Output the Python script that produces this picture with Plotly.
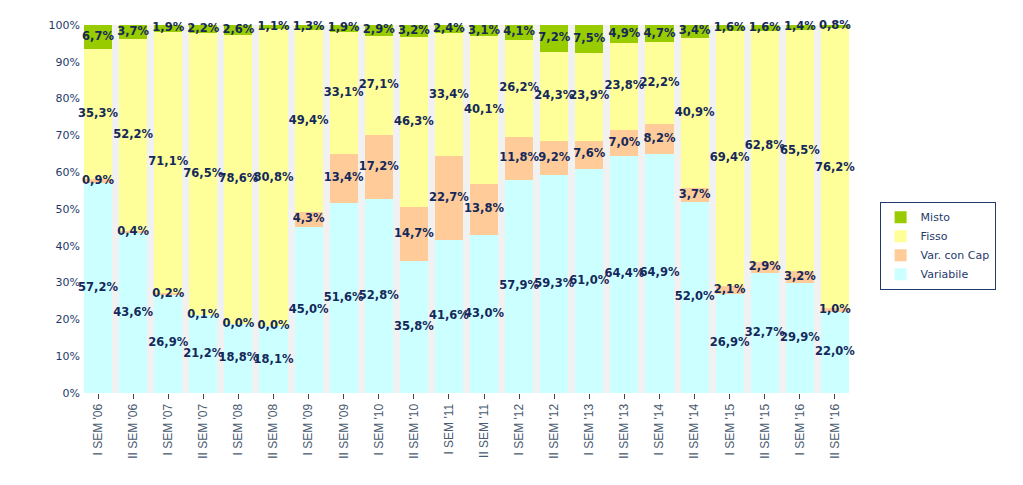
import plotly.graph_objects as go

categories = ["I SEM '06", "II SEM '06", "I SEM '07", "II SEM '07", "I SEM '08", "II SEM '08",
              "I SEM '09", "II SEM '09", "I SEM '10", "II SEM '10", "I SEM '11", "II SEM '11",
              "I SEM '12", "II SEM '12", "I SEM '13", "II SEM '13", "I SEM '14", "II SEM '14",
              "I SEM '15", "II SEM '15", "I SEM '16", "II SEM '16"]

variabile = [57.2, 43.6, 26.9, 21.2, 18.8, 18.1, 45.0, 51.6, 52.8, 35.8, 41.6, 43.0,
             57.9, 59.3, 61.0, 64.4, 64.9, 52.0, 26.9, 32.7, 29.9, 22.0]
var_cap = [0.9, 0.4, 0.2, 0.1, 0.0, 0.0, 4.3, 13.4, 17.2, 14.7, 22.7, 13.8,
           11.8, 9.2, 7.6, 7.0, 8.2, 3.7, 2.1, 2.9, 3.2, 1.0]
fisso = [35.3, 52.2, 71.1, 76.5, 78.6, 80.8, 49.4, 33.1, 27.1, 46.3, 33.4, 40.1,
         26.2, 24.3, 23.9, 23.8, 22.2, 40.9, 69.4, 62.8, 65.5, 76.2]
misto = [6.7, 3.7, 1.9, 2.2, 2.6, 1.1, 1.3, 1.9, 2.9, 3.2, 2.4, 3.1,
         4.1, 7.2, 7.5, 4.9, 4.7, 3.4, 1.6, 1.6, 1.4, 0.8]

series = [("Variabile", variabile, "#ccffff"),
          ("Var. con Cap", var_cap, "#ffcc99"),
          ("Fisso", fisso, "#ffff99"),
          ("Misto", misto, "#99cc00")]

fig = go.Figure()
base = [0.0] * len(categories)
lab_x, lab_y, lab_t = [], [], []
for name, vals, col in series:
    fig.add_trace(go.Bar(x=categories, y=vals, name=name, marker=dict(color=col, line=dict(width=0)),
                         hoverinfo="skip"))
    for i, v in enumerate(vals):
        lab_x.append(categories[i])
        lab_y.append(base[i] + v / 2)
        lab_t.append(f"{v:.1f}%".replace(".", ","))
        base[i] += v

fig.add_trace(go.Scatter(x=lab_x, y=lab_y, text=lab_t, mode="text", showlegend=False,
                         textposition="middle center", hoverinfo="skip", cliponaxis=False,
                         textfont=dict(family="DejaVu Sans", size=11.5, color="#14285a", weight="bold")))

fig.update_layout(
    barmode="stack", bargap=0.2,
    width=1015, height=477,
    margin=dict(l=76, r=174, t=17, b=92),
    paper_bgcolor="white", plot_bgcolor="#f1f1f1",
    font=dict(family="DejaVu Sans", size=11, color="#1f3a6a"),
    xaxis=dict(range=[-0.4, 21.4], tickangle=-90, ticks="outside", ticklen=5, tickcolor="#444444",
               showgrid=False, zeroline=False, showline=False,
               tickfont=dict(family="Liberation Sans", size=12, color="#4a5a70")),
    yaxis=dict(range=[0, 100], dtick=10, ticksuffix="%", showgrid=False, zeroline=False,
               showline=False, ticks="", ticklabelstandoff=3,
               tickfont=dict(family="DejaVu Sans", size=11, color="#1f3a6a")),
    legend=dict(x=1.04, xanchor="left", y=0.52, yanchor="top", traceorder="reversed",
                bgcolor="white", bordercolor="#1f3a6a", borderwidth=1,
                font=dict(family="DejaVu Sans", size=11, color="#1f3a6a"),
                itemwidth=30, tracegroupgap=0),
)

fig.write_html("out.html")
